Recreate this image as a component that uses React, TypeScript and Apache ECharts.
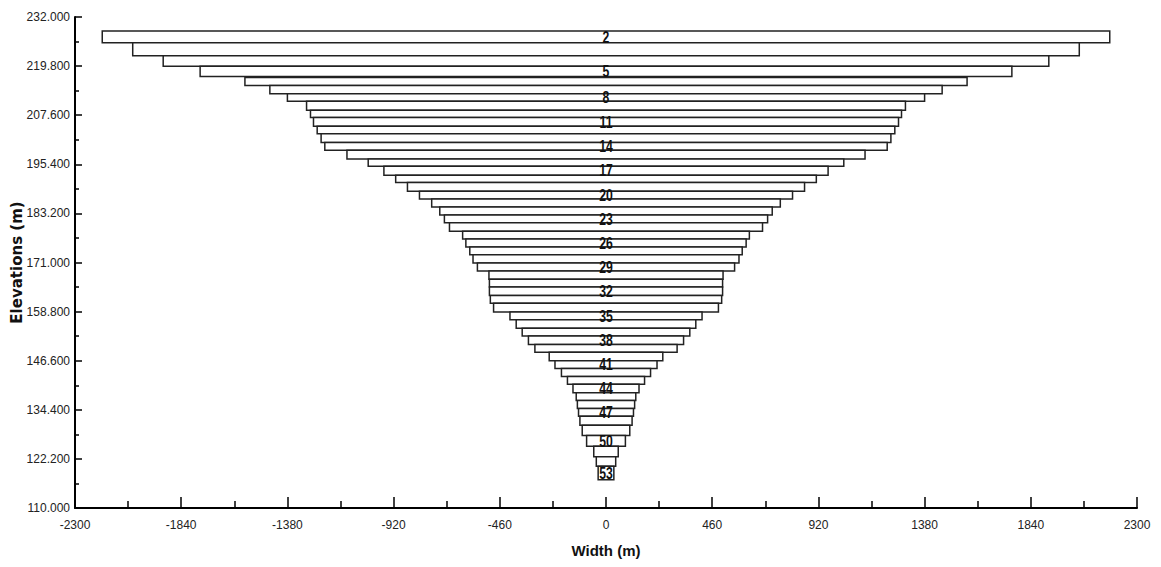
import React, { useEffect, useRef } from "react";
import * as echarts from "echarts";

// Layer numbers (labels shown every 3rd layer)
const layerIds = [
  2, 3, 4, 5, 6, 7, 8, 9, 10, 11, 12, 13, 14, 15, 16, 17, 18, 19, 20, 21, 22, 23, 24, 25, 26, 27,
  28, 29, 30, 31, 32, 33, 34, 35, 36, 37, 38, 39, 40, 41, 42, 43, 44, 45, 46, 47, 48, 49, 50, 51, 52, 53,
];
// Top elevation of each layer (m)
const layerTop = [
  228.5, 225.6, 222.4, 219.75, 216.95, 215.0, 212.9, 211.05, 208.8, 207.0, 204.85, 203.0, 200.8, 198.9,
  196.7, 194.9, 192.7, 190.85, 188.7, 186.8, 184.8, 182.8, 180.9, 178.75, 176.85, 174.85, 172.95, 170.9,
  168.9, 166.85, 164.9, 162.8, 160.85, 158.7, 156.8, 154.65, 152.75, 150.6, 148.7, 146.6, 144.65, 142.7,
  140.75, 138.65, 136.7, 134.7, 132.8, 130.55, 128.0, 125.35, 122.75, 120.35,
];
// Bottom elevation of each layer (m)
const layerBottom = [
  225.6, 222.4, 219.75, 217.2, 215.0, 212.9, 211.05, 208.8, 207.0, 204.85, 203.0, 200.8, 198.9, 196.7,
  194.9, 192.7, 190.85, 188.7, 186.8, 184.8, 182.8, 180.9, 178.75, 176.85, 174.85, 172.95, 170.9, 168.9,
  166.85, 164.9, 162.8, 160.85, 158.7, 156.8, 154.65, 152.75, 150.6, 148.7, 146.6, 144.65, 142.7, 140.75,
  138.65, 136.7, 134.7, 132.8, 130.55, 128.0, 125.35, 122.75, 120.35, 117.05,
];
// Full width of each layer (m), centred on 0
const layerWidth = [
  4364, 4100, 3836, 3516, 3128, 2912, 2760, 2594, 2560, 2534, 2502, 2468, 2436, 2244, 2060, 1924, 1822,
  1720, 1616, 1510, 1440, 1400, 1356, 1242, 1214, 1180, 1152, 1114, 1014, 1010, 1010, 1002, 974, 832, 778,
  726, 672, 616, 492, 442, 386, 334, 286, 258, 248, 238, 226, 206, 168, 106, 84, 68,
];

const xMin = -2300;
const xMax = 2300;
const xInterval = 460;
const yMin = 110;
const yMax = 232;
const yTicks = [110, 122.2, 134.4, 146.6, 158.8, 171, 183.2, 195.4, 207.6, 219.8, 232];
const yMinorTicks = [116.1, 128.3, 140.5, 152.7, 164.9, 177.1, 189.3, 201.5, 213.7, 225.9];

export default function App() {
  const ref = useRef<HTMLDivElement>(null);

  useEffect(() => {
    if (!ref.current) return;
    const chart = echarts.init(ref.current, undefined, { renderer: "svg" });

    const data = layerIds.map((id, i) => [layerWidth[i] / 2, layerTop[i], layerBottom[i], id]);

    const tickStyle = { color: "#000", width: 1.5 };

    chart.setOption({
      animation: false,
      backgroundColor: "#fff",
      grid: { left: 75, right: 24, top: 17, bottom: 59, containLabel: false, outerBoundsMode: "none" },
      xAxis: {
        type: "value",
        min: xMin,
        max: xMax,
        interval: xInterval,
        name: "Width (m)",
        nameLocation: "middle",
        nameGap: 35,
        nameMoveOverlap: false,
        nameTextStyle: { fontFamily: "Liberation Sans", fontWeight: "bold", fontSize: 15, color: "#111" },
        axisLine: { show: true, onZero: false, lineStyle: { color: "#000", width: 2 } },
        axisTick: { show: true, inside: true, length: 11, lineStyle: tickStyle },
        minorTick: { show: true, splitNumber: 2, length: 7, lineStyle: tickStyle },
        splitLine: { show: false },
        minorSplitLine: { show: false },
        axisLabel: {
          color: "#222",
          fontSize: 12,
          fontFamily: "Liberation Sans",
          margin: 11,
          formatter: (v: number) => String(v),
        },
      },
      yAxis: [
        {
          type: "value",
          min: yMin,
          max: yMax,
          position: "left",
          name: "Elevations (m)",
          nameLocation: "middle",
          nameGap: 51,
          nameMoveOverlap: false,
          nameTextStyle: { fontFamily: "DejaVu Sans", fontWeight: "bold", fontSize: 15, color: "#111" },
          axisLine: { show: true, onZero: false, lineStyle: { color: "#000", width: 2 } },
          axisTick: { show: true, inside: true, length: 7, lineStyle: tickStyle, customValues: yTicks },
          splitLine: { show: false },
          axisLabel: {
            color: "#222",
            fontSize: 12,
            fontFamily: "Liberation Sans",
            margin: 5,
            customValues: yTicks,
            formatter: (v: number) => v.toFixed(3),
          },
        },
        {
          type: "value",
          min: yMin,
          max: yMax,
          position: "left",
          offset: 0,
          axisLine: { show: false, onZero: false },
          axisLabel: { show: false },
          splitLine: { show: false },
          axisTick: { show: true, inside: true, length: 4, lineStyle: tickStyle, customValues: yMinorTicks },
        },
      ],
      series: [
        {
          type: "custom",
          xAxisIndex: 0,
          yAxisIndex: 0,
          dimensions: ["half", "top", "bottom", "id"],
          encode: { x: 0, y: [1, 2] },
          data,
          renderItem: (params: any, api: any) => {
            const hw = api.value(0);
            const top = api.value(1);
            const bot = api.value(2);
            const id = api.value(3);
            const p1 = api.coord([-hw, top]);
            const p2 = api.coord([hw, bot]);
            const children: any[] = [
              {
                type: "rect",
                shape: { x: p1[0], y: p1[1], width: p2[0] - p1[0], height: p2[1] - p1[1] },
                style: { fill: "#fff", stroke: "#222", lineWidth: 1.5 },
              },
            ];
            if ((id - 2) % 3 === 0) {
              const c = api.coord([0, (top + bot) / 2]);
              children.push({
                type: "text",
                x: c[0],
                y: c[1],
                scaleX: 0.72,
                z2: 100,
                style: {
                  text: String(id),
                  align: "center",
                  verticalAlign: "middle",
                  fontFamily: "Liberation Sans",
                  fontWeight: "bold",
                  fontSize: 17,
                  fill: "#111",
                },
              });
            }
            return { type: "group", children };
          },
        },
      ],
    });

    return () => chart.dispose();
  }, []);

  return <div ref={ref} style={{ width: 1161, height: 567, position: "absolute", left: 0, top: 0 }} />;
}
